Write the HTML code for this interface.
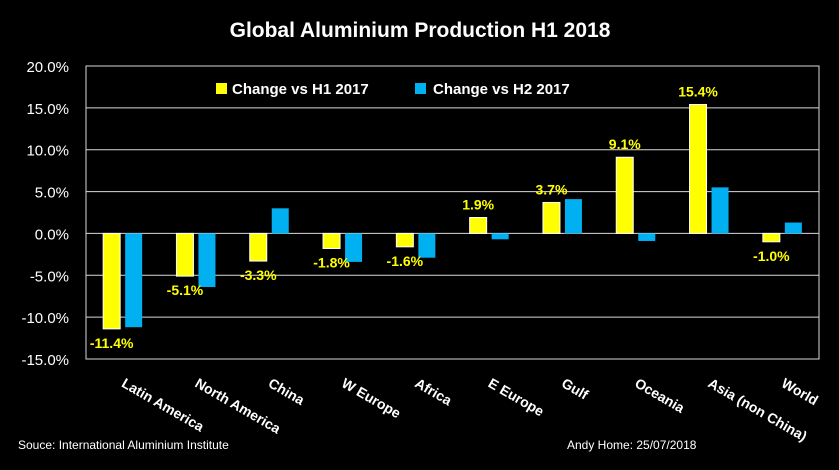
<!DOCTYPE html>
<html><head><meta charset="utf-8">
<style>
html,body{margin:0;padding:0;background:#000;}
svg text{font-family:"Liberation Sans",Arial,sans-serif;}
</style></head>
<body>
<svg id="chart" width="839" height="465" viewBox="0 0 839 465" xmlns="http://www.w3.org/2000/svg">
<rect width="839" height="465" fill="#000"/>
<text x="420" y="37" text-anchor="middle" fill="#fff" font-size="21" font-weight="bold">Global Aluminium Production H1 2018</text>
<g id="grid"></g>
<g id="yticks"></g>
<g id="bars"></g>
<g id="xlabels"></g>
<g>
 <g>
  <rect x="216" y="83" width="11" height="11" fill="#ffff00"/>
  <text x="232" y="94" fill="#fff" font-size="15" font-weight="bold">Change vs H1 2017</text>
 </g>
 <g>
  <rect x="415" y="83" width="11" height="11" fill="#00b0f0"/>
  <text x="433" y="94" fill="#fff" font-size="15" font-weight="bold">Change vs H2 2017</text>
 </g>
</g>
<text x="18" y="449" fill="#fff" font-size="12">Souce: International Aluminium Institute</text>
<text x="567" y="449" fill="#fff" font-size="12">Andy Home: 25/07/2018</text>
</svg>
<script>
const categories=["Latin America","North America","China","W Europe","Africa","E Europe","Gulf","Oceania","Asia (non China)","World"];
const h1Values=[-11.4,-5.1,-3.3,-1.8,-1.6,1.9,3.7,9.1,15.4,-1.0];
const h2Values=[-11.2,-6.4,3.0,-3.4,-2.9,-0.7,4.1,-0.9,5.5,1.3];
const yTicks=[20,15,10,5,0,-5,-10,-15];
const yTickLabels=["20.0%","15.0%","10.0%","5.0%","0.0%","-5.0%","-10.0%","-15.0%"];

const NS="http://www.w3.org/2000/svg";
const X0=86,X1=819,YTOP=66,YBOT=359,VMAX=20,VMIN=-15;
function y(v){return YTOP+(VMAX-v)/(VMAX-VMIN)*(YBOT-YTOP);}
const bandW=(X1-X0)/categories.length;
function xBand(i){return X0+i*bandW;}
function mk(tag,attrs,parent){const e=document.createElementNS(NS,tag);for(const k in attrs)e.setAttribute(k,attrs[k]);parent.appendChild(e);return e;}

const grid=document.getElementById('grid');
const yt=document.getElementById('yticks');
yTicks.forEach((t,i)=>{
  const l=mk('line',{x1:X0,x2:X1,y1:y(t),y2:y(t),stroke:'#d9d9d9','stroke-width':1},grid);
  
  
  const tx=mk('text',{x:69,y:y(t)+6,'text-anchor':'end',fill:'#fff','font-size':15},yt);
  tx.textContent=yTickLabels[i];
  
  
});
const fr=mk('rect',{x:X0,y:YTOP,width:X1-X0,height:YBOT-YTOP,fill:'none',stroke:'#d9d9d9','stroke-width':1},grid);



const bars=document.getElementById('bars');
const xl=document.getElementById('xlabels');
const bw=17;
categories.forEach((c,i)=>{
  const cx=xBand(i)+bandW/2;
  const v1=h1Values[i],v2=h2Values[i];
  const x1=cx-bw-2.5,x2=cx+2.5;
  const r1=mk('rect',{x:x1,y:Math.min(y(v1),y(0)),width:bw,height:Math.abs(y(v1)-y(0)),fill:'#ffff00',stroke:'#fff','stroke-width':1},bars);
  
  
  const r2=mk('rect',{x:x2,y:Math.min(y(v2),y(0)),width:bw,height:Math.abs(y(v2)-y(0)),fill:'#00b0f0'},bars);
  
  
  const ly=v1>=0?y(v1)-8:y(v1)+19;
  const lb=mk('text',{x:x1+bw/2,y:ly,'text-anchor':'middle',fill:'#ffff00','font-size':14,'font-weight':'bold'},bars);
  lb.textContent=v1.toFixed(1)+'%';
  
  
  const xt=mk('text',{x:0,y:0,'text-anchor':'start',fill:'#fff','font-size':14,'font-weight':'bold',transform:'translate('+(cx-2)+',386) rotate(30)'},xl);
  xt.textContent=c;
  
  
});
</script>
</body></html>
